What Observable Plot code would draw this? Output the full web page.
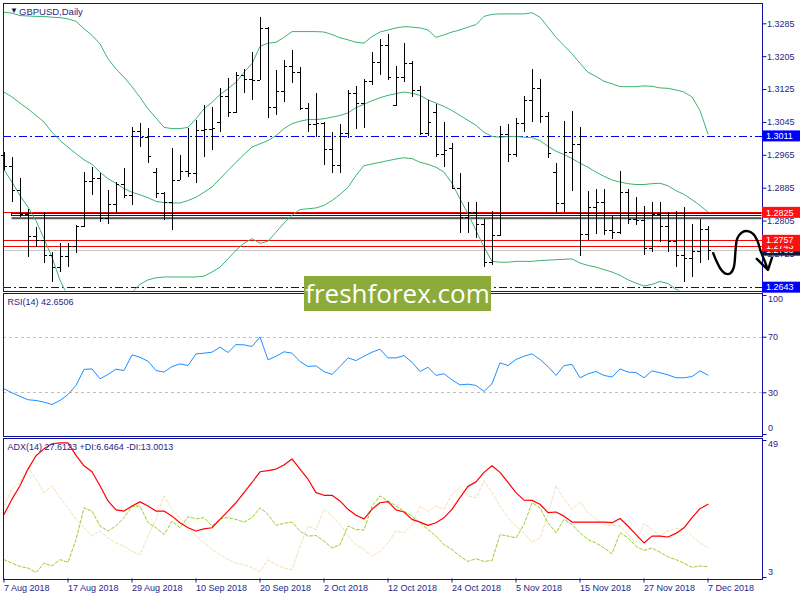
<!DOCTYPE html>
<html><head><meta charset="utf-8">
<script src="https://cdn.jsdelivr.net/npm/d3@7"></script>
<script src="https://cdn.jsdelivr.net/npm/@observablehq/plot@0.6"></script>
<style>
body{margin:0;background:#fff;}
#chart{position:relative;width:800px;height:600px;overflow:hidden;background:#fff;}
#chart svg{position:absolute;left:0;}
.wm{position:absolute;left:304px;top:276px;width:187px;height:35px;background:#8cab3b;color:#fff;font-family:"Open Sans",sans-serif;font-size:26px;line-height:34px;text-align:center;z-index:5;}
</style></head><body><div id="chart"></div>
<script>
// ---- categories / ticks ----
const xTickIndex = [0,8,16,24,32,40,48,56,64,72,80,88];
const xTickLabels = ["7 Aug 2018","17 Aug 2018","29 Aug 2018","10 Sep 2018","20 Sep 2018","2 Oct 2018","12 Oct 2018","24 Oct 2018","5 Nov 2018","15 Nov 2018","27 Nov 2018","7 Dec 2018"];
const priceTicks = [1.2645,1.2725,1.2805,1.2885,1.2965,1.3045,1.3125,1.3205,1.3285];
const rsiTicks = [100,70,30,0];
const rsiLevels = [70,30];
const adxTicks = [49,3];

// ---- OHLC (daily bars, 7 Aug 2018 .. 7 Dec 2018) ----
const open = [1.2965,1.2938,1.2879,1.2821,1.2767,1.2758,1.2721,1.2693,1.2719,1.2743,
1.2792,1.2901,1.2909,1.2811,1.2845,1.2893,1.2867,1.3023,1.3008,1.2923,
1.2872,1.2851,1.2904,1.2926,1.2921,1.3025,1.3027,1.3045,1.3108,1.3068,
1.3159,1.3149,1.3147,1.3273,1.3081,1.3121,1.3181,1.3167,1.3078,1.3040,
1.3042,1.2979,1.2940,1.3017,1.3115,1.3090,1.3145,1.3192,1.3232,1.3086,
1.3154,1.3188,1.3123,1.3017,1.3068,1.2967,1.2982,1.2885,1.2814,1.2827,
1.2796,1.2705,1.2770,1.3015,1.2967,1.3042,1.3098,1.3128,1.3060,1.2924,
1.2847,1.2973,1.2991,1.2772,1.2837,1.2850,1.2782,1.2777,1.2874,1.2808,
1.2806,1.2739,1.2821,1.2792,1.2755,1.2721,1.2715,1.2731,1.2784];
const high = [1.2973,1.2960,1.2908,1.2832,1.2789,1.2827,1.2729,1.2750,1.2750,1.2794,
1.2924,1.2936,1.2920,1.2879,1.2900,1.2932,1.3033,1.3042,1.3030,1.2932,
1.2875,1.2981,1.2965,1.3030,1.3050,1.3086,1.3082,1.3127,1.3151,1.3167,
1.3175,1.3216,1.3301,1.3277,1.3171,1.3196,1.3220,1.3179,1.3090,1.3115,
1.3046,1.3021,1.3040,1.3123,1.3132,1.3149,1.3216,1.3248,1.3259,1.3181,
1.3238,1.3193,1.3132,1.3098,1.3089,1.3046,1.2993,1.2920,1.2849,1.2849,
1.2808,1.2829,1.3035,1.3040,1.3054,1.3108,1.3174,1.3150,1.3070,1.2944,
1.3048,1.3072,1.3032,1.2877,1.2882,1.2882,1.2817,1.2926,1.2881,1.2862,
1.2841,1.2849,1.2850,1.2825,1.2829,1.2837,1.2797,1.2809,1.2793];
const low = [1.2928,1.2851,1.2814,1.2717,1.2741,1.2701,1.2656,1.2681,1.2693,1.2725,
1.2790,1.2867,1.2802,1.2796,1.2823,1.2860,1.2843,1.2985,1.2944,1.2859,
1.2806,1.2782,1.2903,1.2912,1.2896,1.2960,1.2977,1.3021,1.3058,1.3066,
1.3115,1.3098,1.3146,1.3054,1.3062,1.3094,1.3139,1.3074,1.3021,1.3009,
1.2940,1.2920,1.2920,1.3005,1.3027,1.3031,1.3135,1.3159,1.3147,1.3085,
1.3143,1.3106,1.3013,1.3011,1.2960,1.2936,1.2884,1.2774,1.2774,1.2762,
1.2693,1.2697,1.2768,1.2948,1.2960,1.3021,1.3046,1.3043,1.2957,1.2823,
1.2827,1.2878,1.2719,1.2758,1.2772,1.2770,1.2760,1.2772,1.2797,1.2794,
1.2721,1.2729,1.2754,1.2729,1.2693,1.2656,1.2667,1.2701,1.2709];
const close = [1.2938,1.2879,1.2821,1.2767,1.2758,1.2721,1.2693,1.2719,1.2743,1.2792,
1.2901,1.2909,1.2811,1.2845,1.2893,1.2867,1.3023,1.3008,1.2962,1.2872,
1.2851,1.2904,1.2926,1.2921,1.3025,1.3027,1.3030,1.3108,1.3068,1.3159,
1.3149,1.3147,1.3273,1.3081,1.3121,1.3181,1.3167,1.3078,1.3040,1.3042,
1.2979,1.2940,1.3017,1.3115,1.3090,1.3145,1.3192,1.3232,1.3154,1.3154,
1.3188,1.3123,1.3017,1.3045,1.2967,1.2977,1.2885,1.2814,1.2827,1.2796,
1.2705,1.2770,1.3015,1.2967,1.3042,1.3098,1.3128,1.3060,1.2969,1.2847,
1.2973,1.2991,1.2772,1.2837,1.2850,1.2782,1.2777,1.2874,1.2808,1.2806,
1.2739,1.2821,1.2792,1.2755,1.2721,1.2715,1.2731,1.2784,1.2733];

// ---- Bollinger bands ----
const bbUpper = [1.3313,1.3311,1.3305,1.3304,1.3303,1.3303,1.3301,1.3300,1.3297,1.3291,
1.3273,1.3257,1.3236,1.3200,1.3175,1.3155,1.3132,1.3106,1.3078,1.3056,
1.3033,1.3030,1.3030,1.3033,1.3054,1.3078,1.3094,1.3113,1.3127,1.3143,
1.3167,1.3188,1.3230,1.3238,1.3240,1.3252,1.3266,1.3266,1.3266,1.3266,
1.3265,1.3259,1.3251,1.3246,1.3240,1.3238,1.3254,1.3265,1.3270,1.3275,
1.3278,1.3277,1.3275,1.3270,1.3252,1.3258,1.3265,1.3270,1.3277,1.3283,
1.3303,1.3308,1.3309,1.3309,1.3309,1.3309,1.3312,1.3301,1.3277,1.3252,
1.3232,1.3212,1.3189,1.3167,1.3157,1.3145,1.3139,1.3132,1.3132,1.3132,
1.3134,1.3133,1.3129,1.3128,1.3124,1.3119,1.3107,1.3074,1.3017];
const bbMiddle = [1.3119,1.3107,1.3092,1.3078,1.3062,1.3046,1.3021,1.3001,1.2985,1.2969,
1.2954,1.2943,1.2924,1.2908,1.2897,1.2884,1.2875,1.2869,1.2862,1.2853,
1.2850,1.2849,1.2849,1.2855,1.2863,1.2875,1.2888,1.2908,1.2928,1.2948,
1.2967,1.2985,1.2993,1.3001,1.3013,1.3030,1.3042,1.3048,1.3052,1.3052,
1.3054,1.3058,1.3062,1.3068,1.3081,1.3089,1.3098,1.3105,1.3111,1.3115,
1.3119,1.3116,1.3111,1.3100,1.3092,1.3084,1.3074,1.3062,1.3050,1.3038,
1.3021,1.3011,1.3009,1.3011,1.3011,1.3009,1.3008,1.3001,1.2987,1.2975,
1.2967,1.2957,1.2946,1.2936,1.2924,1.2914,1.2905,1.2900,1.2896,1.2894,
1.2894,1.2896,1.2897,1.2891,1.2879,1.2870,1.2857,1.2843,1.2827];
const bbLower = [1.2930,1.2900,1.2867,1.2839,1.2806,1.2762,1.2717,1.2661,1.2622,1.2612,
1.2617,1.2622,1.2617,1.2612,1.2622,1.2624,1.2632,1.2651,1.2662,1.2667,
1.2669,1.2669,1.2669,1.2669,1.2669,1.2671,1.2681,1.2693,1.2713,1.2734,
1.2751,1.2762,1.2751,1.2756,1.2778,1.2800,1.2819,1.2833,1.2835,1.2837,
1.2843,1.2855,1.2870,1.2887,1.2916,1.2940,1.2944,1.2948,1.2952,1.2956,
1.2959,1.2957,1.2948,1.2943,1.2936,1.2924,1.2897,1.2859,1.2823,1.2782,
1.2742,1.2707,1.2705,1.2705,1.2707,1.2707,1.2707,1.2709,1.2710,1.2711,
1.2712,1.2713,1.2703,1.2697,1.2693,1.2687,1.2681,1.2673,1.2662,1.2654,
1.2647,1.2651,1.2658,1.2653,1.2639,1.2629,1.2624,1.2617,1.2607];

// ---- RSI(14) ----
const rsi = [32.9,30.0,27.4,25.0,24.5,23.3,21.6,24.5,28.8,35.3,
46.8,47.2,40.1,43.2,47.0,46.0,57.3,55.6,52.7,46.0,
44.9,48.9,50.8,49.6,58.0,58.5,59.2,62.8,59.0,64.7,
64.5,63.3,70.2,53.7,56.3,59.5,58.5,52.5,48.9,49.4,
45.3,43.2,48.9,55.1,53.2,56.3,59.2,61.4,55.1,55.1,
56.8,52.0,45.3,48.4,42.5,43.7,39.3,35.7,36.2,35.3,
31.0,36.5,51.6,49.6,54.0,56.3,58.0,54.0,48.9,42.5,
49.6,50.4,40.8,43.7,45.3,42.5,41.3,47.2,44.9,44.6,
40.8,45.8,44.4,42.9,40.8,40.8,41.7,45.8,42.65];

// ---- ADX(14), +DI, -DI ----
const adx = [24.2,29.3,33.8,39.4,43.9,46.2,47.9,48.2,48.2,44.0,
40.5,38.5,33.8,28.7,25.7,25.3,27.0,28.4,27.0,25.3,
25.3,23.6,21.4,19.7,18.6,19.3,19.7,22.5,25.3,28.1,
31.5,34.9,38.5,38.9,39.4,40.8,42.8,39.4,36.0,31.5,
30.6,30.6,28.7,25.9,23.9,22.7,25.9,28.1,28.5,25.7,
25.0,22.5,21.6,20.5,21.4,23.1,25.9,29.8,33.6,35.1,
38.3,40.5,38.3,34.9,31.5,29.0,28.9,27.6,24.8,25.0,
23.6,21.6,21.6,21.6,21.6,21.6,21.4,22.8,20.3,17.4,
14.6,16.9,16.9,16.6,17.8,19.7,23.1,26.1,27.6];
const plusDI = [9.0,7.8,6.7,6.2,4.7,7.8,6.9,9.0,8.1,15.7,
26.4,25.3,20.3,18.6,20.3,23.1,26.8,27.0,21.4,19.7,
17.4,21.9,19.7,23.4,22.7,23.1,20.3,22.7,23.1,22.5,
21.6,23.1,26.4,24.2,20.5,21.2,21.6,18.6,16.9,17.1,
15.2,12.9,14.0,20.3,19.1,18.9,27.0,30.4,28.7,27.0,
25.3,23.6,21.4,19.1,16.9,14.0,12.4,10.1,8.4,9.3,
8.4,8.7,17.4,16.9,16.3,20.8,28.1,26.4,21.4,18.0,
22.5,20.8,18.0,15.7,14.6,12.9,11.0,18.0,16.3,13.5,
12.1,12.9,11.5,9.9,9.0,7.8,6.4,6.9,6.6];
const minusDI = [27.0,32.7,34.9,40.0,36.0,31.5,33.8,29.8,26.4,22.5,
19.7,16.9,18.6,16.3,14.6,13.5,11.8,10.7,16.9,22.5,
30.4,25.9,23.1,20.3,16.9,14.6,12.4,10.7,9.0,7.8,
7.3,6.2,5.0,9.0,7.3,6.2,5.6,13.5,20.3,19.1,
25.9,23.6,20.8,16.9,14.0,12.4,10.1,11.8,14.6,18.6,
18.0,20.8,27.0,25.3,27.0,25.9,31.0,33.2,30.4,29.8,
35.5,31.5,27.0,23.1,20.3,18.0,14.8,16.3,24.2,33.8,
29.3,25.9,28.4,24.8,22.7,20.8,20.5,20.3,17.4,14.6,
21.2,19.1,16.9,18.6,19.4,19.4,16.9,14.6,13.0];

// ---- horizontal levels and annotations ----
const blueLevels = [1.3011, 1.2643];
const redLevels = [1.2825, 1.2757, 1.2743];
const bidLevel = 1.2733;
const zoneStart = 1, zoneEnd = 100, zoneTop = 1.2823, zoneBottom = 1.2818;
const priceBoxValues = [1.2733, 1.2743, 1.2757, 1.2825, 1.3011, 1.2643];
const priceBoxColors = ["#14143c", "#ff1010", "#ff1010", "#ff1010", "#0000ff", "#0000ff"];
const arrowX = [88.65,88.94,89.56,90.19,90.81,91.23,91.44,91.65,92.28,93.1,93.73,94.23,94.56,95.06,95.44];
const arrowY = [1.2727,1.2713,1.2689,1.2677,1.2678,1.2693,1.2733,1.2762,1.2778,1.2780,1.2772,1.2754,1.2733,1.2709,1.2688];
const arrowHeadX = [94.1, 95.5, 96.0];
const arrowHeadY = [1.2713, 1.2686, 1.2716];

// ---- build rows ----
const bars = open.map((o, i) => ({i, open: o, high: high[i], low: low[i], close: close[i],
  upper: bbUpper[i], middle: bbMiddle[i], lower: bbLower[i], rsi: rsi[i], adx: adx[i], pdi: plusDI[i], mdi: minusDI[i]}));
const zone = [{x1: zoneStart, x2: zoneEnd, y1: zoneBottom, y2: zoneTop}];
const arrow = arrowX.map((x, k) => ({x, y: arrowY[k]}));
const arrowHead = arrowHeadX.map((x, k) => ({x, y: arrowHeadY[k]}));

const navy = "#1010a0", txt = "#262686", band = "#3cb371";
const X = {domain: [0, 88], range: [3.5, 707.5], axis: null};
const baseStyle = {background: "transparent", fontFamily: "'Liberation Sans', Arial, sans-serif", fontSize: "9px", color: txt, overflow: "visible"};
const fmt4 = d3.format(".4f");
const chart = document.getElementById("chart");

function place(svg, top) { svg.style.top = top + "px"; chart.appendChild(svg); return svg; }
function addBlur(svg, id, sd) {
  const defs = d3.select(svg).insert("defs", ":first-child");
  defs.append("filter").attr("id", id).attr("filterUnits", "userSpaceOnUse")
    .attr("x", 0).attr("y", -20).attr("width", 820).attr("height", 640)
    .append("feGaussianBlur").attr("stdDeviation", sd);
}

// ---- main price panel ----
const main = Plot.plot({
  width: 800, height: 292, marginTop: 2.5, marginBottom: 1.5, marginLeft: 2.5, marginRight: 38.5,
  x: X, y: {domain: [1.2885, 1.3285], range: [187.7, 23.3], axis: null},
  style: baseStyle,
  marks: [
    Plot.rect(zone, {x1: "x1", x2: "x2", y1: "y1", y2: "y2", fill: "#555", dy: 4, clip: true, ariaLabel: "zone-shadow"}),
    Plot.ruleY([bidLevel], {stroke: "#c8c8c8", shapeRendering: "crispEdges"}),
    Plot.ruleY(redLevels, {stroke: "#ff0000", shapeRendering: "crispEdges"}),
    Plot.ruleY(blueLevels, {stroke: "#0000ff", strokeDasharray: "8,3,2,3", shapeRendering: "crispEdges"}),
    Plot.rect(zone, {x1: "x1", x2: "x2", y1: "y1", y2: "y2", stroke: "#0000ff", fill: "none", clip: true, shapeRendering: "crispEdges"}),
    Plot.line(bars, {x: "i", y: "upper", stroke: band, strokeWidth: 1, clip: true}),
    Plot.line(bars, {x: "i", y: "middle", stroke: band, strokeWidth: 1, clip: true}),
    Plot.line(bars, {x: "i", y: "lower", stroke: band, strokeWidth: 1, clip: true}),
    Plot.ruleX(bars, {x: "i", y1: "low", y2: "high", stroke: "#000", strokeWidth: 1, shapeRendering: "crispEdges"}),
    Plot.ruleY(bars, {x1: d => d.i - 0.375, x2: "i", y: "open", stroke: "#000", shapeRendering: "crispEdges"}),
    Plot.ruleY(bars, {x1: "i", x2: d => d.i + 0.375, y: "close", stroke: "#000", shapeRendering: "crispEdges"}),
    Plot.axisY(priceTicks, {anchor: "right", tickSize: 4, tickPadding: 1, tickFormat: fmt4, label: null, stroke: navy}),
    Plot.frame({stroke: navy, shapeRendering: "crispEdges"}),
    Plot.line(arrow, {x: "x", y: "y", stroke: "#444", strokeWidth: 3, curve: "catmull-rom", dx: 3, dy: 3, opacity: 0.55, ariaLabel: "arrow-shadow"}),
    Plot.line(arrowHead, {x: "x", y: "y", stroke: "#444", strokeWidth: 3, dx: 3, dy: 3, opacity: 0.55, ariaLabel: "arrow-shadow"}),
    Plot.line(arrow, {x: "x", y: "y", stroke: "#000", strokeWidth: 2.4, curve: "catmull-rom", strokeLinecap: "round"}),
    Plot.line(arrowHead, {x: "x", y: "y", stroke: "#000", strokeWidth: 2.4, strokeLinecap: "round", strokeLinejoin: "round"}),
    Plot.text(["\u25BC"], {frameAnchor: "top-left", dx: 7, dy: 7.5, fontSize: 8, lineAnchor: "middle", fill: "#101060"}),
    Plot.text(["GBPUSD,Daily"], {frameAnchor: "top-left", dx: 16, dy: 8.5, textAnchor: "start", lineAnchor: "middle", fill: txt, fontSize: 9.5})
  ]
});
place(main, 0);
addBlur(main, "blurZone", 2.5);
addBlur(main, "blurArrow", 1.5);
d3.select(main).selectAll('[aria-label="zone-shadow"]').attr("filter", "url(#blurZone)");
d3.select(main).selectAll('[aria-label="arrow-shadow"]').attr("filter", "url(#blurArrow)");
{
  const ys = main.scale("y");
  const g = d3.select(main).append("g").attr("font-size", "9px");
  priceBoxValues.forEach((v, k) => {
    const y = ys.apply(v);
    g.append("rect").attr("x", 762).attr("y", y - 5.5).attr("width", 38).attr("height", 11).attr("fill", priceBoxColors[k]);
    g.append("text").attr("x", 766).attr("y", y).attr("dy", "0.35em").attr("text-anchor", "start").attr("fill", "#fff").text(fmt4(v));
  });
}

// ---- RSI panel ----
const rsiPlot = Plot.plot({
  width: 800, height: 148, marginTop: 2.5, marginBottom: 2.5, marginLeft: 2.5, marginRight: 38.5,
  x: X, y: {domain: [0, 100], range: [144, 5], axis: null},
  style: baseStyle,
  marks: [
    Plot.ruleY(rsiLevels, {stroke: "#c0c0c0", strokeDasharray: "3,3", shapeRendering: "crispEdges"}),
    Plot.line(bars, {x: "i", y: "rsi", stroke: "#1e90ff", strokeWidth: 1}),
    Plot.axisY(rsiTicks, {anchor: "right", tickSize: 4, tickFormat: () => "", label: null, stroke: navy}),
    Plot.text([70, 30], {y: d => d, text: d => String(d), frameAnchor: "right", dx: 6, textAnchor: "start", fill: txt}),
    Plot.text([100], {y: d => d, text: d => String(d), frameAnchor: "right", dx: 6, dy: 4, textAnchor: "start", fill: txt}),
    Plot.text([0], {y: d => d, text: d => String(d), frameAnchor: "right", dx: 6, dy: -6, textAnchor: "start", fill: txt}),
    Plot.frame({stroke: navy, shapeRendering: "crispEdges"}),
    Plot.text(["RSI(14) 42.6506"], {frameAnchor: "top-left", dx: 4.5, dy: 9.5, textAnchor: "start", lineAnchor: "middle", fill: txt})
  ]
});
place(rsiPlot, 290);

// ---- ADX panel ----
const adxPlot = Plot.plot({
  width: 800, height: 165, marginTop: 2.5, marginBottom: 21.5, marginLeft: 2.5, marginRight: 38.5,
  x: {domain: [0, 88], range: [3.5, 707.5]}, y: {domain: [3, 49], range: [142, 5], axis: null},
  style: baseStyle,
  marks: [
    Plot.line(bars, {x: "i", y: "mdi", stroke: "#f5deb3", strokeWidth: 1, strokeDasharray: "3,2"}),
    Plot.line(bars, {x: "i", y: "pdi", stroke: "#9acd32", strokeWidth: 1, strokeDasharray: "3,2"}),
    Plot.line(bars, {x: "i", y: "adx", stroke: "#ff0000", strokeWidth: 1.2}),
    Plot.axisY(adxTicks, {anchor: "right", tickSize: 4, tickFormat: () => "", label: null, stroke: navy}),
    Plot.text([49], {y: d => d, text: d => String(d), frameAnchor: "right", dx: 6, dy: 4, textAnchor: "start", fill: txt}),
    Plot.text([3], {y: d => d, text: d => String(d), frameAnchor: "right", dx: 6, dy: -5, textAnchor: "start", fill: txt}),
    Plot.axisX(xTickIndex, {anchor: "bottom", tickSize: 4, tickPadding: 2, label: null, stroke: navy,
      tickFormat: d => xTickLabels[xTickIndex.indexOf(d)], textAnchor: "start", fill: txt}),
    Plot.frame({stroke: navy, shapeRendering: "crispEdges"}),
    Plot.text(["ADX(14) 27.6123 +DI:6.6464 -DI:13.0013"], {frameAnchor: "top-left", dx: 4.5, dy: 9.5, textAnchor: "start", lineAnchor: "middle", fill: txt})
  ]
});
place(adxPlot, 435);

// ---- watermark ----
const wm = document.createElement("div");
wm.className = "wm";
wm.textContent = "freshforex.com";
chart.appendChild(wm);
</script>
</body></html>
